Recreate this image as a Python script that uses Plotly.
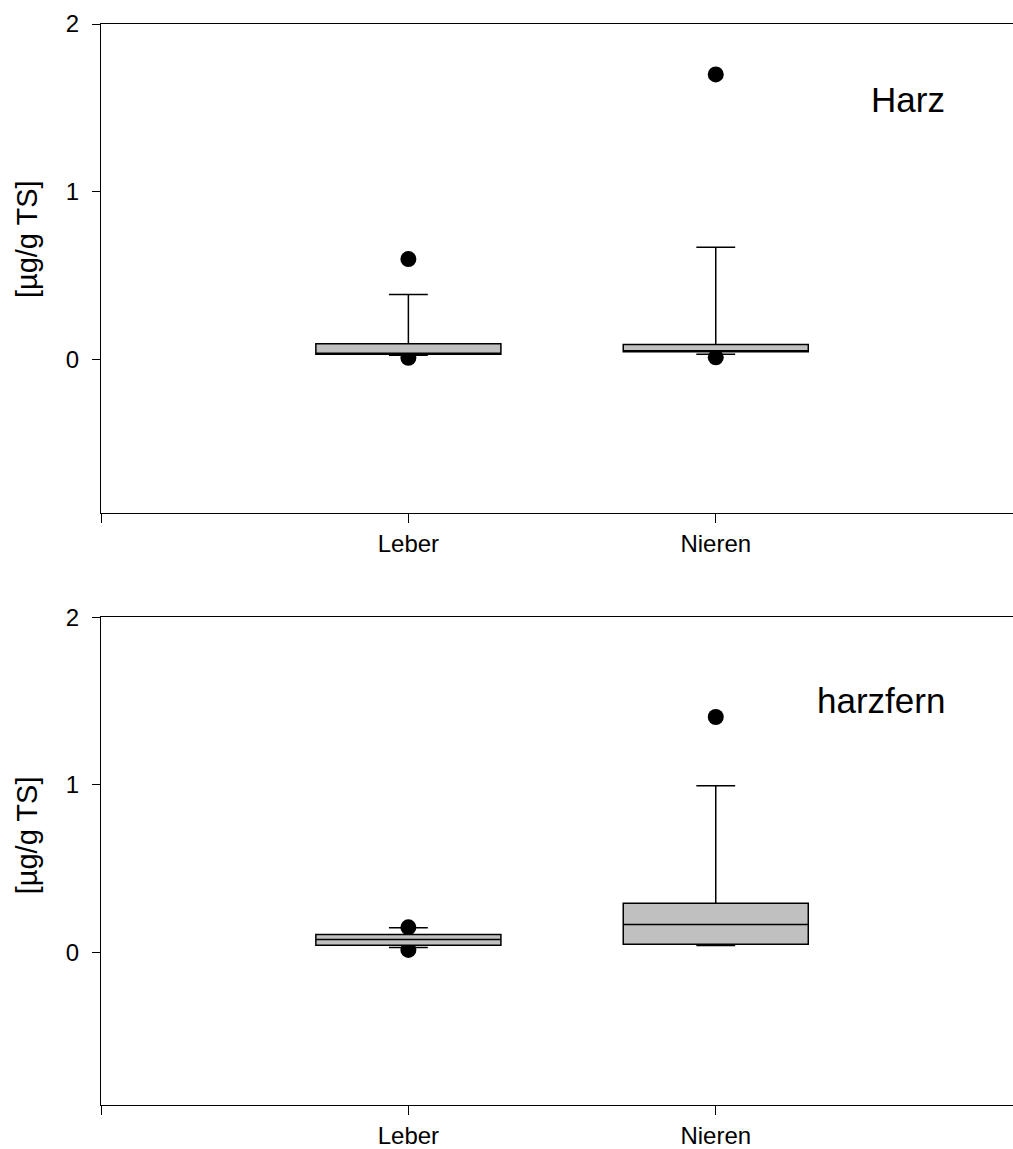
import plotly.graph_objects as go
from plotly.subplots import make_subplots

categories = ["Leber", "Nieren"]
positions = [0, 1]

# Panel "Harz"
harz_q1 = [0.034, 0.048]
harz_median = [0.036, 0.052]
harz_q3 = [0.096, 0.092]
harz_lower = [0.028, 0.034]
harz_upper = [0.39, 0.67]
harz_outliers = [[0.60, 0.012], [1.70, 0.015]]

# Panel "harzfern"
fern_q1 = [0.043, 0.049]
fern_median = [0.077, 0.167]
fern_q3 = [0.107, 0.293]
fern_lower = [0.030, 0.042]
fern_upper = [0.147, 0.994]
fern_outliers = [[0.150, 0.015], [1.405]]

panel_labels = ["Harz", "harzfern"]
y_title = "[µg/g TS]"
y_ticks = [0, 1, 2]

FONT = "Arial, 'Liberation Sans', sans-serif"

fig = make_subplots(rows=2, cols=1, vertical_spacing=0.0968)

panels = [
    (harz_q1, harz_median, harz_q3, harz_lower, harz_upper, harz_outliers),
    (fern_q1, fern_median, fern_q3, fern_lower, fern_upper, fern_outliers),
]

DOT_R = 8
for r, (q1, med, q3, lo, up, outs) in enumerate(panels, start=1):
    fig.add_trace(go.Box(x=positions, q1=q1, median=med, q3=q3,
                         lowerfence=lo, upperfence=up,
                         width=0.602, whiskerwidth=0.21,
                         fillcolor="#c0c0c0",
                         line=dict(color="black", width=1.5),
                         boxpoints=False, showlegend=False), row=r, col=1)
    xr = "x" if r == 1 else "x2"
    yr = "y" if r == 1 else "y2"
    # outliers drawn beneath the boxes (as in the original)
    for p, vals in zip(positions, outs):
        for v in vals:
            fig.add_shape(type="circle", xref=xr, yref=yr,
                          xsizemode="pixel", ysizemode="pixel",
                          xanchor=p, yanchor=v,
                          x0=-DOT_R, x1=DOT_R, y0=-DOT_R, y1=DOT_R,
                          fillcolor="black", line=dict(width=0, color="black"),
                          layer="below")

fig.update_layout(
    width=1013, height=1149,
    margin=dict(l=101, r=0, t=24, b=39),
    paper_bgcolor="white", plot_bgcolor="white",
    font=dict(family=FONT, color="black"),
    showlegend=False,
)

for r in (1, 2):
    fig.update_xaxes(range=[-1, 1.967], tickmode="array",
                     tickvals=[-1] + positions, ticktext=[""] + categories,
                     ticks="outside", ticklen=9, tickwidth=1, tickcolor="black",
                     showline=True, linecolor="black", linewidth=1, mirror=True,
                     showgrid=False, zeroline=False,
                     tickfont=dict(size=24, family=FONT, color="black"),
                     row=r, col=1)
    fig.update_yaxes(range=[-0.91, 2], tickmode="array", tickvals=y_ticks,
                     ticktext=[str(t) for t in y_ticks],
                     ticks="outside", ticklen=8, tickwidth=1, tickcolor="black",
                     showline=True, linecolor="black", linewidth=1, mirror=False,
                     showgrid=False, zeroline=False, ticklabelstandoff=8,
                     tickfont=dict(size=24, family=FONT, color="black"),
                     row=r, col=1)

fig.update_layout(
    yaxis=dict(domain=[0.5479, 1.0]),
    yaxis2=dict(domain=[0.0, 0.4512]),
)

# y-axis titles and panel labels
title_y = [0.72, 0.70]
label_y = [1.55, 1.506]
for i, (yref, lab) in enumerate(zip(["y", "y2"], panel_labels)):
    fig.add_annotation(text=y_title, xref="paper", yref=yref, x=-0.081, y=title_y[i],
                       textangle=-90, showarrow=False, xanchor="center", yanchor="middle",
                       font=dict(size=29, family=FONT, color="black"))
    fig.add_annotation(text=lab, xref="paper", yref=yref, x=0.928, y=label_y[i],
                       showarrow=False, xanchor="right", yanchor="middle",
                       font=dict(size=35, family=FONT, color="black"))

fig.write_html("out.html")
